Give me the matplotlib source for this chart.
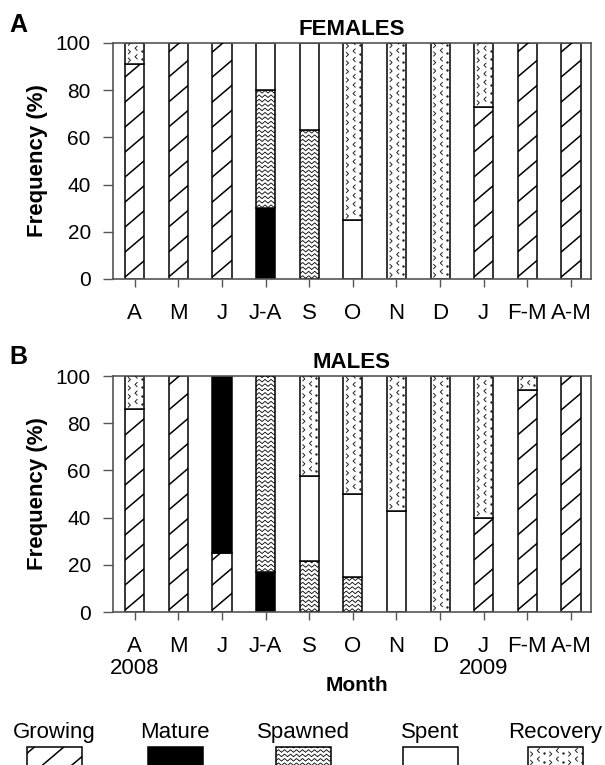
import numpy as np
import matplotlib
matplotlib.use('Agg')
import matplotlib.pyplot as plt
from matplotlib.collections import LineCollection
from matplotlib.path import Path
from matplotlib.patches import Rectangle

plt.rcParams['font.family'] = ['Liberation Sans', 'DejaVu Sans']

months = ['A', 'M', 'J', 'J-A', 'S', 'O', 'N', 'D', 'J', 'F-M', 'A-M']
years = {0: '2008', 8: '2009'}
stages = ['Growing', 'Mature', 'Spawned', 'Spent', 'Recovery']

# females, frequency (%) of each stage per month
f_growing = [91, 100, 100, 0, 0, 0, 0, 0, 73, 100, 100]
f_mature = [0, 0, 0, 30, 0, 0, 0, 0, 0, 0, 0]
f_spawned = [0, 0, 0, 50, 63, 0, 0, 0, 0, 0, 0]
f_spent = [0, 0, 0, 20, 37, 25, 0, 0, 0, 0, 0]
f_recovery = [9, 0, 0, 0, 0, 75, 100, 100, 27, 0, 0]

# males
m_growing = [86, 100, 25, 0, 0, 0, 0, 0, 40, 94, 100]
m_mature = [0, 0, 75, 17, 0, 0, 0, 0, 0, 0, 0]
m_spawned = [0, 0, 0, 83, 21.5, 15, 0, 0, 0, 0, 0]
m_spent = [0, 0, 0, 0, 36, 35, 43, 0, 0, 0, 0]
m_recovery = [14, 0, 0, 0, 42.5, 50, 57, 100, 60, 6, 0]

females = [f_growing, f_mature, f_spawned, f_spent, f_recovery]
males = [m_growing, m_mature, m_spawned, m_spent, m_recovery]

W, H = 605, 765
fig = plt.figure(figsize=(W / 100, H / 100), dpi=100)

CHEV_R = Path([(-0.5, 1), (0.5, 0), (-0.5, -1)], [Path.MOVETO, Path.LINETO, Path.LINETO])
CHEV_L = Path([(0.5, 1), (-0.5, 0), (0.5, -1)], [Path.MOVETO, Path.LINETO, Path.LINETO])


def pix_box(ax, p):
    x0, y0 = p.get_x(), p.get_y()
    (a, b), (c, d) = ax.transData.transform(
        [(x0, y0), (x0 + p.get_width(), y0 + p.get_height())])
    return a, b, c, d


def add_lines(ax, p, segs, lw):
    inv = ax.transData.inverted()
    segs = [inv.transform(np.array(s, dtype=float)) for s in segs]
    lc = LineCollection(segs, colors='k', linewidths=lw, zorder=3)
    ax.add_collection(lc, autolim=False)
    lc.set_clip_path(p)


def hatch_growing(ax, p):
    x0, y0, x1, y1 = pix_box(ax, p)
    gap, rise = 25.0, 0.85 * (x1 - x0 + 6)
    y = y0 - rise - 4
    segs = []
    while y < y1:
        segs.append([(x0 - 3, y), (x1 + 3, y + rise)])
        y += gap
    add_lines(ax, p, segs, 1.1)


def hatch_spawned(ax, p):
    x0, y0, x1, y1 = pix_box(ax, p)
    xs = np.arange(x0 - 3, x1 + 6, 3.0)
    zig = 1.3 * (-1.0) ** np.arange(len(xs))
    segs = []
    y = y0 + 2
    while y < y1 + 2:
        segs.append(np.column_stack([xs, y + zig]))
        y += 4.4
    add_lines(ax, p, segs, 0.6)


def hatch_recovery(ax, p):
    x0, y0, x1, y1 = pix_box(ax, p)
    right, left, dots = [], [], []
    y = y0 + 4
    while y < y1:
        xc = x0
        while xc < x1:
            right.append((xc + 4, y))
            left.append((xc + 11, y + 3.5))
            dots.append((xc + 16.5, y + 1))
            xc += 19
        y += 8.5
    inv = ax.transData.inverted()
    for pts, mk, s, face in [(right, CHEV_R, 12, 'none'), (left, CHEV_L, 12, 'none'),
                             (dots, 'o', 1.0, 'k')]:
        if not pts:
            continue
        d = inv.transform(np.array(pts))
        sc = ax.scatter(d[:, 0], d[:, 1], marker=mk, s=s, facecolors=face,
                        edgecolors='#222222', linewidths=0.7, zorder=3)
        sc.set_clip_path(p)


styles = {
    'Growing': ('white', hatch_growing),
    'Mature': ('black', None),
    'Spawned': ('white', hatch_spawned),
    'Spent': ('white', None),
    'Recovery': ('white', hatch_recovery),
}


def panel(rect, data, title, letter, letter_y, bottom_labels):
    ax = fig.add_axes(rect)
    x = np.arange(len(months))
    ax.set_xlim(-0.5, 10.46)
    ax.set_ylim(0, 100)
    ax.set_autoscale_on(False)
    base = np.zeros(len(months))
    for name, vals in zip(stages, data):
        vals = np.array(vals, dtype=float)
        face, hatch = styles[name]
        idx = np.nonzero(vals)[0]
        bars = ax.bar(x[idx], vals[idx], 0.44, bottom=base[idx], color=face,
                      edgecolor='black', linewidth=1.1, zorder=2)
        if hatch is not None:
            for b in bars:
                hatch(ax, b)
        base += vals
    ax.set_xticks(x)
    ax.set_xticklabels(bottom_labels, fontsize=16, linespacing=1.1)
    ax.set_yticks(np.arange(0, 101, 20))
    ax.tick_params(axis='x', length=6, width=1, color='#555555', pad=11)
    ax.tick_params(axis='y', length=7, width=1, color='#555555', pad=9, labelsize=15)
    for s in ax.spines.values():
        s.set_color('#555555')
        s.set_linewidth(1.2)
    ax.set_title(title, fontsize=16, fontweight='bold', pad=6)
    ax.set_ylabel('Frequency (%)', fontsize=16, fontweight='bold', va='center')
    ax.yaxis.set_label_coords(-0.157, 0.5)
    fig.text(9 / W, 1 - letter_y / H, letter, fontsize=18, fontweight='bold', va='center')
    return ax


ax_f = panel([113 / W, 1 - 279 / H, 478 / W, 236 / H], females, 'FEMALES', 'A', 25, months)
labels_b = [m + ('\n' + years[i] if i in years else '') for i, m in enumerate(months)]
ax_m = panel([113 / W, 1 - 612 / H, 478 / W, 236 / H], males, 'MALES', 'B', 357, labels_b)
ax_m.set_xlabel('Month', fontsize=15, fontweight='bold', va='top')
ax_m.xaxis.set_label_coords(0.51, -0.272)

# legend drawn in its own pixel-scaled axes: labels above swatches
leg = fig.add_axes([0, 0, 1, 60 / H])
leg.set_xlim(0, W)
leg.set_ylim(0, 60)
leg.set_autoscale_on(False)
leg.axis('off')
legend_x = [54.5, 175, 303, 430, 555]
for cx, name in zip(legend_x, stages):
    face, hatch = styles[name]
    r = Rectangle((cx - 27.5, -10), 55, 28, facecolor=face, edgecolor='black',
                  linewidth=1.1, zorder=2, clip_on=False)
    leg.add_patch(r)
    if hatch is not None:
        hatch(leg, r)
    leg.text(cx, 27, name, ha='center', va='baseline', fontsize=16)

fig.savefig('out.png', dpi=100)
